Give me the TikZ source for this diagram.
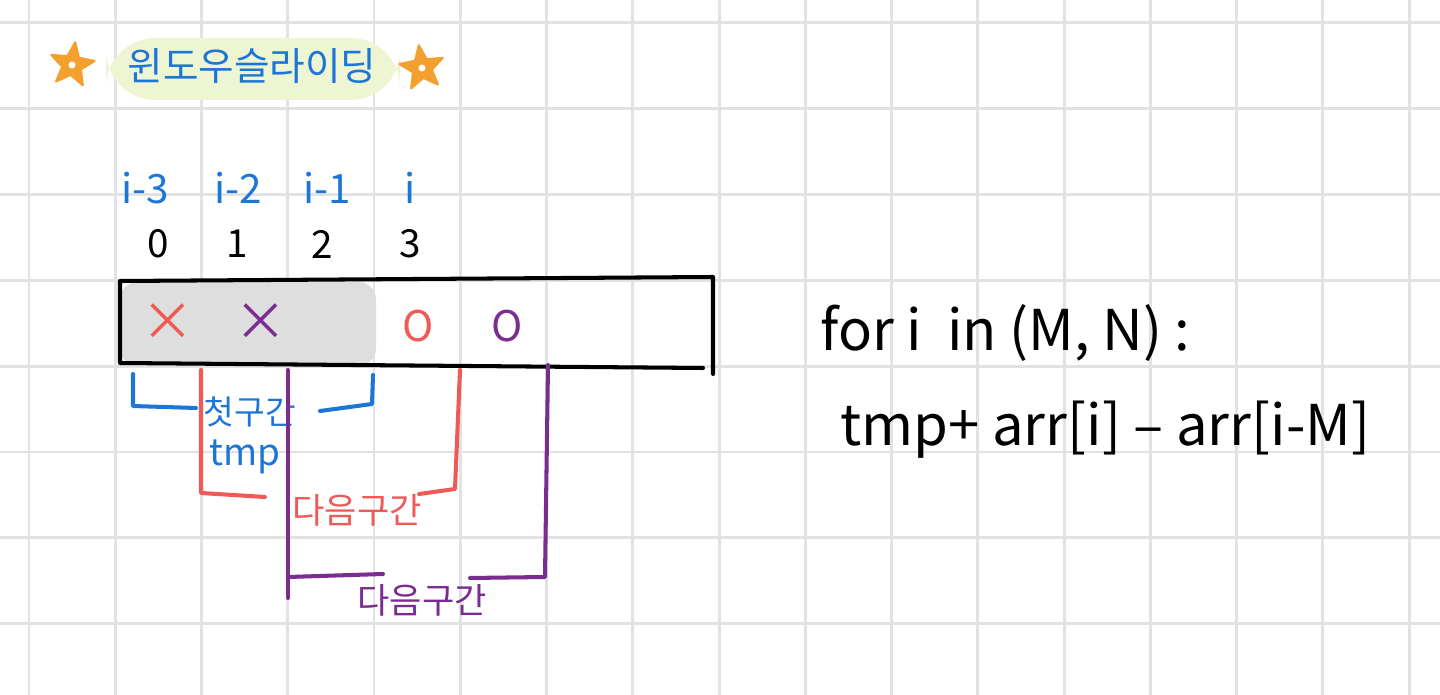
\documentclass[tikz,border=0pt]{standalone}
\usepackage{fontspec}
\setmainfont{Noto Sans CJK KR}
\usetikzlibrary{shapes.geometric}

\definecolor{gridgray}{HTML}{E2E2E2}
\definecolor{marker}{HTML}{EEF5D2}
\definecolor{penblue}{HTML}{1C76D6}
\definecolor{penorange}{HTML}{F4A02E}
\definecolor{penred}{HTML}{EF5A57}
\definecolor{penpurple}{HTML}{7A2C90}
\definecolor{shadegray}{HTML}{DEDEDE}

\tikzset{
  gridline/.style={gridgray, line width=1.7pt},
  pen/.style={line width=2.3pt, line cap=round, line join=round},
  hand/.style={inner sep=0pt, font=\fontsize{19}{22}\selectfont},
  starmark/.style={star, star points=5, star point ratio=2.3, minimum size=0.92cm,
    draw=penorange, fill=penorange, line width=1.2pt, line join=round, inner sep=0pt}
}

\begin{document}
\begin{tikzpicture}[x=0.02cm, y=-0.02cm]
            \useasboundingbox (0,0) rectangle (1440,695);
            \fill[white] (0,0) rectangle (1440,695);
            % Grid
            \foreach \k in {0,...,16} {
                \draw[gridline] ({29+86.25*\k},0) -- ({29+86.25*\k},695);
            }
            \foreach \k in {0,...,7} {
                \draw[gridline] (0,{23+85.8*\k}) -- (1440,{23+85.8*\k});
            }
            % Title
            \fill[marker, rounded corners=28] (106,38) rectangle (400,100);
            \node[hand, penblue, font=\fontsize{22}{25}\selectfont] (title) at (252,66) {윈도우슬라이딩};
            \node[starmark, rotate=-8] (starl) at (72,65) {};
            \node[starmark, rotate=8] (starr) at (422,68) {};
            \fill[white] (starl.center) circle (3.5);
            \fill[white] (starr.center) circle (3.5);
            % Indices
            \foreach \x/\lbl/\n in {145/i-3/a, 238/i-2/b, 327/i-1/c, 410/i/d} {
                \node[hand, penblue, font=\fontsize{23}{26}\selectfont] (idx\n) at (\x,188) {\lbl};
            }
            \foreach \x/\lbl in {158/0, 237/1, 322/2, 410/3} {
                \node[hand, font=\fontsize{22}{25}\selectfont] (num\lbl) at (\x,244) {\lbl};
            }
            % Array
            \fill[shadegray, rounded corners=10] (120,282) rectangle (376,366);
            \draw[pen] (120,362) -- (120,281) -- (713,277) -- (713,374);
            \draw[pen] (120,363) -- (703,368);
            \node[hand, penred, font=\fontsize{30}{32}\selectfont] (xa) at (168,322) {×};
            \node[hand, penpurple, font=\fontsize{30}{32}\selectfont] (xb) at (261,322) {×};
            \node[hand, penred, font=\fontsize{24}{27}\selectfont] (oa) at (418,326) {O};
            \node[hand, penpurple, font=\fontsize{24}{27}\selectfont] (ob) at (507,326) {O};
            % Windows
            \draw[pen, penblue] (133,374) -- (133,406) -- (196,408);
            \draw[pen, penblue] (320,411) -- (372,404) -- (373,375);
            \node[hand, penblue] (first) at (250,412) {첫구간};
            \node[hand, penblue, font=\fontsize{21}{24}\selectfont] (tmp) at (245,457) {tmp};
            \draw[pen, penred] (201,370) -- (201,493) -- (265,497);
            \draw[pen, penred] (419,494) -- (455,489) -- (460,370);
            \node[hand, penred, font=\fontsize{20}{23}\selectfont] (nexta) at (357,510) {다음구간};
            \draw[pen, penpurple] (288,370) -- (288,598);
            \draw[pen, penpurple] (288,577) -- (383,574);
            \draw[pen, penpurple] (470,578) -- (545,577) -- (548,365);
            \node[hand, penpurple, font=\fontsize{20}{23}\selectfont] (nextb) at (422,600) {다음구간};
            % Code
            \node[hand, anchor=west, font=\fontsize{32}{36}\selectfont] (loop) at (820,333) {for i \ in (M, N) :};
            \node[hand, anchor=west, font=\fontsize{32}{36}\selectfont] (update) at (840,430) {tmp+ arr[i] – arr[i-M]};
        \end{tikzpicture}
\end{document}
